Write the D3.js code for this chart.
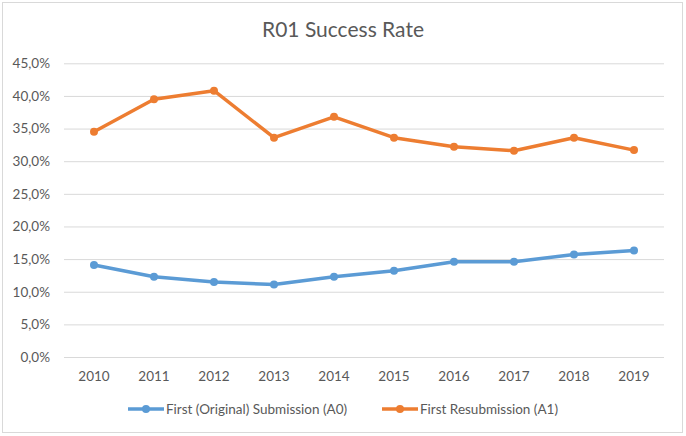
<!DOCTYPE html>
<html><head><meta charset="utf-8">
<script src="https://cdn.jsdelivr.net/npm/d3@7"></script>
<style>body{margin:0;background:#fff}svg{display:block}</style>
</head><body><svg id="c" width="686" height="436"></svg>
<script>
const years = ["2010","2011","2012","2013","2014","2015","2016","2017","2018","2019"];
const a0 = [14.1,12.3,11.5,11.1,12.3,13.2,14.6,14.6,15.7,16.3];
const a1 = [34.5,39.5,40.8,33.6,36.8,33.6,32.2,31.6,33.6,31.7];
const yTicks = [0,5,10,15,20,25,30,35,40,45];
const seriesNames = ["First (Original) Submission (A0)","First Resubmission (A1)"];
const colors = ["#5B9BD5","#ED7D31"];

const svg = d3.select("#c");
const font = "Lato, 'Open Sans', sans-serif";
const txt = "#595959";
svg.append("rect").attr("x",2.5).attr("y",2.5).attr("width",680).attr("height",430)
  .attr("fill","#fff").attr("stroke","#D9D9D9");

const x = d3.scaleBand().domain(years).range([64,664]);
const y = d3.scaleLinear().domain([0,45]).range([357,63.3]);

svg.append("text").attr("x",343).attr("y",37).attr("text-anchor","middle")
  .attr("font-family",font).attr("font-size",21).attr("fill",txt).text("R01 Success Rate");

const ga = svg.append("g").attr("transform","translate(64,0)")
  .call(d3.axisLeft(y).tickValues(yTicks).tickSize(-600).tickFormat(d=>d.toFixed(1).replace(".",",")+"%").tickPadding(14));
ga.select(".domain").remove();
ga.selectAll(".tick line").attr("stroke","#D9D9D9");
ga.selectAll(".tick text").attr("font-family",font).attr("font-size",13.5).attr("fill",txt);

const gx = svg.append("g").attr("transform","translate(0,357)")
  .call(d3.axisBottom(x).tickSize(0).tickPadding(14));
gx.select(".domain").remove();
gx.selectAll(".tick text").attr("font-family",font).attr("font-size",13.5).attr("fill",txt);

const cx = d => x(d) + x.bandwidth()/2;
[a0,a1].forEach((s,i)=>{
  const line = d3.line().x((d,j)=>cx(years[j])).y(d=>y(d));
  svg.append("path").datum(s).attr("d",line).attr("fill","none")
    .attr("stroke",colors[i]).attr("stroke-width",3.5).attr("stroke-linejoin","round").attr("stroke-linecap","round");
  svg.selectAll(null).data(s).enter().append("circle")
    .attr("cx",(d,j)=>cx(years[j])).attr("cy",d=>y(d)).attr("r",4).attr("fill",colors[i]);
});

const legX = [128,382];
seriesNames.forEach((n,i)=>{
  const g = svg.append("g").attr("transform",`translate(${legX[i]},409)`);
  g.append("line").attr("x1",0).attr("x2",36).attr("stroke",colors[i]).attr("stroke-width",3.5);
  g.append("circle").attr("cx",18).attr("r",4).attr("fill",colors[i]);
  g.append("text").attr("x",38).attr("y",5).attr("font-family",font).attr("font-size",13.5).attr("fill",txt).text(n);
});
</script></body></html>
